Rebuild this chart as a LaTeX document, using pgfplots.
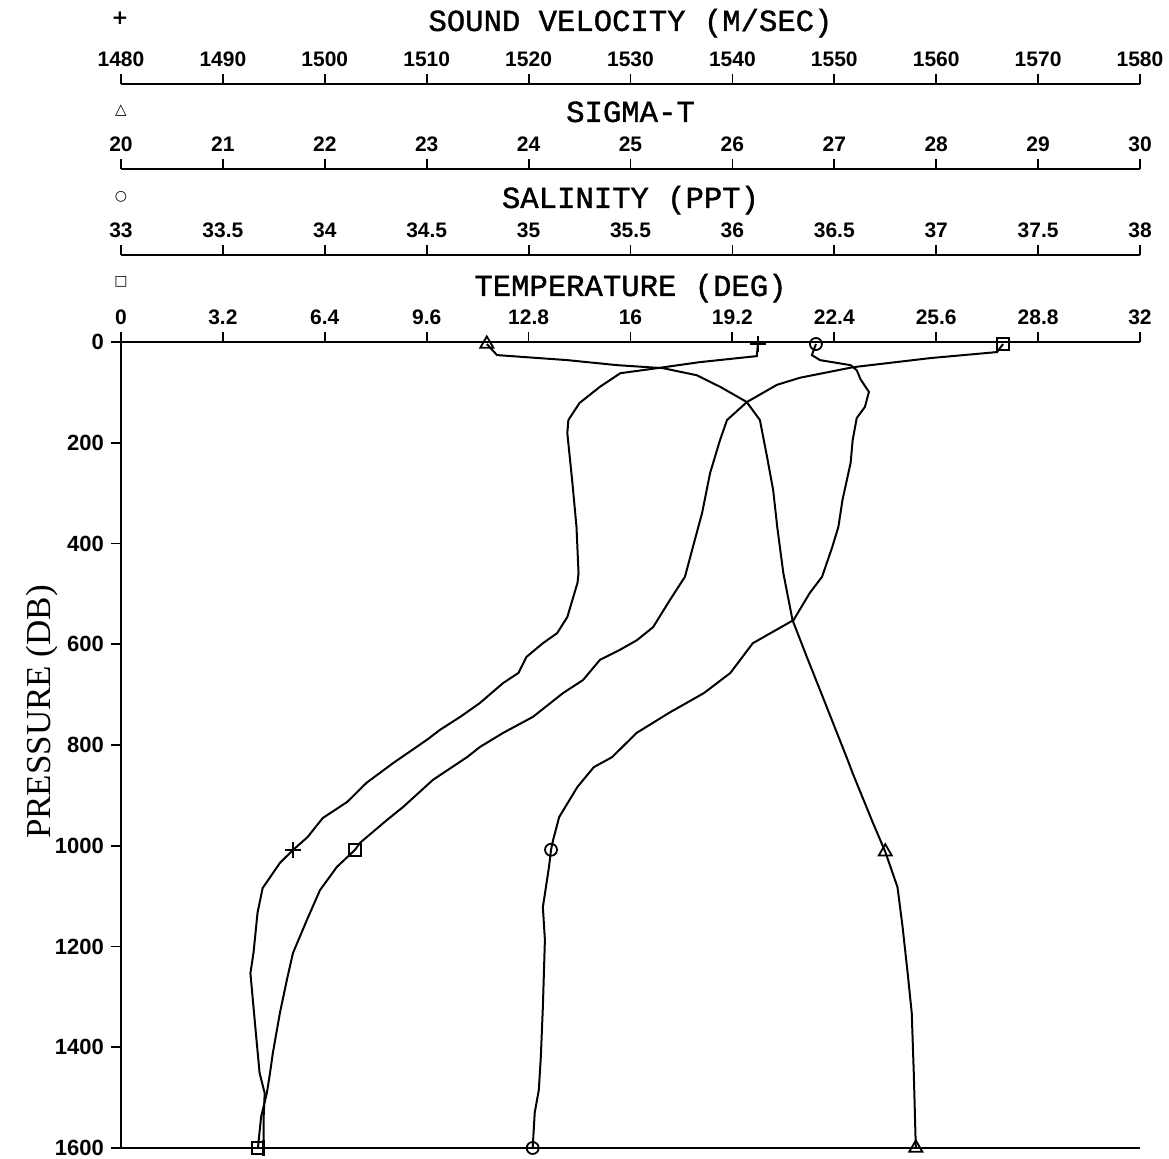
\documentclass[border=0pt]{standalone}
\usepackage{pgfplots}
\pgfplotsset{compat=1.18}
\usepackage{fontspec}
\setmainfont{Liberation Serif}
\setsansfont{Liberation Sans}
\setmonofont{Liberation Mono}
\newfontfamily\symfont{DejaVu Sans}
\newfontfamily\ttlfont[FakeBold=1.2]{Liberation Mono}

\pgfplotsset{
  base/.style={scale only axis, width=509.5pt, clip=false,
    axis line style={line width=1.1pt},
    tick style={line width=0.9pt, black},
    major tick length=5pt, tick align=outside},
  ruler/.style={base, height=1pt, ymin=0, ymax=1,
    axis x line*=top, axis y line=none,
    xticklabel style={font=\sffamily\bfseries\fontsize{10.5}{12}\selectfont}},
  curve/.style={base, height=403pt, at={(60.5pt,5.5pt)}, anchor=south west,
    ymin=0, ymax=1600, y dir=reverse},
  prof/.style={black, line width=1pt},
}

\begin{document}
\begin{tikzpicture}
\useasboundingbox (0,0) rectangle (584.5pt,579.5pt);

% ---------- rulers ----------
\begin{axis}[ruler, at={(60.5pt,537.5pt)}, anchor=north west,
  xmin=1480, xmax=1580,
  xtick={1480,1490,1500,1510,1520,1530,1540,1550,1560,1570,1580},
  xticklabels={1480,1490,1500,1510,1520,1530,1540,1550,1560,1570,1580}]
\end{axis}
\begin{axis}[ruler, at={(60.5pt,495pt)}, anchor=north west,
  xmin=20, xmax=30,
  xtick={20,21,22,23,24,25,26,27,28,29,30},
  xticklabels={20,21,22,23,24,25,26,27,28,29,30}]
\end{axis}
\begin{axis}[ruler, at={(60.5pt,452pt)}, anchor=north west,
  xmin=33, xmax=38,
  xtick={33,33.5,34,34.5,35,35.5,36,36.5,37,37.5,38},
  xticklabels={33,33.5,34,34.5,35,35.5,36,36.5,37,37.5,38}]
\end{axis}

% ---------- temperature (main axis) ----------
\begin{axis}[curve, xmin=0, xmax=32,
  axis x line*=top, axis y line*=left,
  y axis line style={line width=1pt},
  xtick={0,3.2,6.4,9.6,12.8,16,19.2,22.4,25.6,28.8,32},
  xticklabels={0,3.2,6.4,9.6,12.8,16,19.2,22.4,25.6,28.8,32},
  ytick={0,200,400,600,800,1000,1200,1400,1600},
  yticklabels={0,200,400,600,800,1000,1200,1400,1600},
  xticklabel style={font=\sffamily\bfseries\fontsize{10.5}{12}\selectfont},
  yticklabel style={font=\sffamily\bfseries\fontsize{11}{12}\selectfont}]
\addplot[prof] table {
27.70 4
27.51 20
25.41 32
22.99 50
21.32 71
20.60 85
19.66 119
19.03 155
18.81 195
18.50 260
18.25 339
17.96 407
17.71 466
17.24 512
16.71 566
16.20 592
15.67 611
15.04 631
14.51 671
13.88 697
12.94 744
12.00 776
11.27 804
10.87 824
9.80 869
8.86 923
8.35 949
7.51 994
7.35 1008
6.78 1042
6.25 1088
5.84 1147
5.40 1213
5.21 1266
4.99 1332
4.77 1411
4.68 1451
4.58 1491
4.40 1538
4.30 1600
};
\addplot[only marks, mark=square, mark size=3pt, mark options={line width=0.9pt, black}] table {
27.70 4
7.35 1008
4.30 1600
};
\end{axis}

% ---------- sigma-t (draws bottom line) ----------
\begin{axis}[curve, xmin=20, xmax=30,
  axis x line*=bottom, axis y line=none, xtick=\empty]
\addplot[prof] table {
23.59 4
23.69 26
24.38 36
24.87 46
25.32 52
25.65 66
25.88 89
26.14 119
26.27 155
26.34 228
26.40 294
26.44 367
26.50 459
26.59 552
26.73 625
26.86 691
27.12 824
27.18 856
27.38 955
27.50 1012
27.62 1082
27.67 1161
27.72 1253
27.76 1332
27.78 1451
27.80 1600
};
\addplot[only marks, mark=triangle, mark size=3.8pt, mark options={line width=0.9pt, black}] table {
23.59 4
27.50 1012
27.80 1600
};
\end{axis}

% ---------- sound velocity ----------
\begin{axis}[curve, xmin=1480, xmax=1580, hide axis]
\addplot[prof] table {
1542.5 4
1542.4 28
1536.8 40
1532.6 52
1529.0 62
1527.0 89
1525.0 121
1523.9 155
1523.8 181
1524.3 280
1524.7 367
1524.9 459
1524.8 478
1523.8 546
1522.8 578
1521.4 598
1519.8 625
1519.0 657
1517.5 677
1515.2 717
1513.3 744
1511.3 770
1510.0 790
1506.7 836
1504.1 875
1502.2 913
1499.8 945
1498.3 983
1496.9 1008
1495.6 1034
1493.9 1084
1493.4 1133
1493.0 1213
1492.7 1253
1493.0 1320
1493.3 1386
1493.6 1451
1494.1 1491
1494.0 1538
1494.0 1600
};
\addplot[only marks, mark=+, mark size=4pt, mark options={line width=1.2pt, black}] table {
1542.5 4
1496.9 1008
1494.0 1600
};
\end{axis}

% ---------- salinity ----------
\begin{axis}[curve, xmin=33, xmax=38, hide axis]
\addplot[prof] table {
36.41 4
36.39 26
36.43 36
36.58 46
36.61 56
36.63 75
36.67 99
36.65 129
36.61 151
36.59 195
36.58 240
36.54 314
36.52 367
36.49 407
36.44 466
36.38 498
36.30 552
36.10 598
35.99 657
35.86 697
35.69 736
35.53 776
35.41 824
35.32 844
35.24 883
35.15 943
35.12 989
35.11 1008
35.10 1042
35.07 1122
35.08 1187
35.07 1320
35.06 1419
35.05 1485
35.03 1530
35.02 1600
};
\addplot[only marks, mark=o, mark size=3pt, mark options={line width=0.9pt, black}] table {
36.41 4
35.11 1008
35.02 1600
};
\end{axis}

% ---------- titles and key symbols ----------
\tikzset{ttl/.style={font=\ttlfont\fontsize{15.3}{16}\selectfont, anchor=base, inner sep=0pt}}
\node[ttl] at (315.25pt,564pt) {SOUND VELOCITY (M/SEC)};
\node[ttl] at (315.25pt,518.5pt) {SIGMA-T};
\node[ttl] at (315.25pt,475.5pt) {SALINITY (PPT)};
\node[ttl] at (315.25pt,431.5pt) {TEMPERATURE (DEG)};
\node[font=\symfont\bfseries\fontsize{10}{10}\selectfont, inner sep=0pt] at (60pt,570.5pt) {+};
\node[font=\symfont\fontsize{7.5}{8}\selectfont, inner sep=0pt] at (60.5pt,524pt) {△};
\node[font=\symfont\fontsize{7}{8}\selectfont, inner sep=0pt] at (60.5pt,481pt) {○};
\node[font=\symfont\fontsize{7}{8}\selectfont, inner sep=0pt] at (60.5pt,438.5pt) {□};
\node[font=\fontsize{17.5}{18}\selectfont, rotate=90] at (21pt,223.5pt) {PRESSURE (DB)};
\end{tikzpicture}
\end{document}
